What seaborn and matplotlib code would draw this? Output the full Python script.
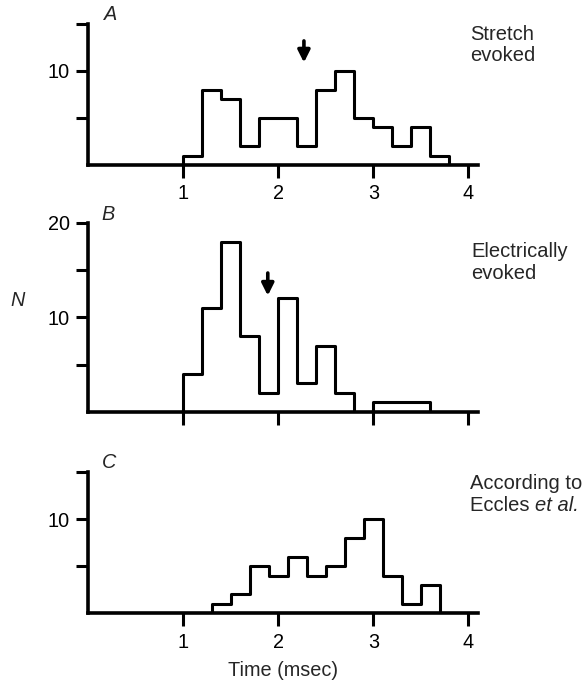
import numpy as np
import pandas as pd
import matplotlib
matplotlib.use("Agg")
import matplotlib.pyplot as plt
import seaborn as sns

sns.set_style("white")
plt.rcParams['font.family'] = ['Liberation Sans', 'DejaVu Sans']

# ---- data (bin width 0.2 msec) ----
edges_a = [1.0, 1.2, 1.4, 1.6, 1.8, 2.0, 2.2, 2.4, 2.6, 2.8, 3.0, 3.2, 3.4, 3.6, 3.8]
counts_a = [1, 8, 7, 2, 5, 5, 2, 8, 10, 5, 4, 2, 4, 1]
arrow_a = 2.27

edges_b = [1.0, 1.2, 1.4, 1.6, 1.8, 2.0, 2.2, 2.4, 2.6, 2.8, 3.0, 3.2, 3.4, 3.6]
counts_b = [4, 11, 18, 8, 2, 12, 3, 7, 2, 0, 1, 1, 1]
arrow_b = 1.89

edges_c = [1.3, 1.5, 1.7, 1.9, 2.1, 2.3, 2.5, 2.7, 2.9, 3.1, 3.3, 3.5, 3.7]
counts_c = [1, 2, 5, 4, 6, 4, 5, 8, 10, 4, 1, 3]

x_ticks = [1, 2, 3, 4]
letters = ["A", "B", "C"]
x_label = "Time (msec)"
y_label = "N"

W, H = 588, 682
fig = plt.figure(figsize=(W / 100, H / 100), dpi=100)


def add_ax(base_px, top_px):
    return fig.add_axes([88 / W, 1 - base_px / H, 390 / W, (base_px - top_px) / H])


FS = 14.3
FS_SIDE = 14.5
LW = 2.2


def style(ax, ymax, yticks, ylabels, xlabels):
    ax.set_xlim(0, 4.1)
    ax.set_ylim(0, ymax)
    for s in ["top", "right"]:
        ax.spines[s].set_visible(False)
    for s in ["left", "bottom"]:
        ax.spines[s].set_linewidth(2.6)
        ax.spines[s].set_color("black")
        ax.spines[s].set_capstyle("projecting")
    ax.set_xticks(x_ticks)
    ax.set_xticklabels([str(t) for t in x_ticks] if xlabels else [])
    ax.set_yticks(yticks)
    ax.set_yticklabels(ylabels)
    ax.tick_params(axis="x", direction="out", length=9, width=2.2, pad=5,
                   labelsize=FS, bottom=True, colors="black")
    ax.tick_params(axis="y", direction="out", length=9, width=2.2, pad=4,
                   labelsize=FS, left=True, colors="black")
    ax.set_xlabel("")
    ax.set_ylabel("")
    ax.grid(False)


def hist(ax, edges, counts):
    centers = [(edges[i] + edges[i + 1]) / 2 for i in range(len(counts))]
    df = pd.DataFrame({"t": centers, "n": counts})
    sns.histplot(data=df, x="t", weights="n", bins=edges, element="step",
                 fill=True, color="black", facecolor="none", edgecolor="black",
                 linewidth=LW, ax=ax, alpha=1)


def arrow(ax, x, y0, y1):
    ax.annotate("", xy=(x, y1), xytext=(x, y0),
                arrowprops=dict(arrowstyle="-|>", color="black", lw=2.6,
                                mutation_scale=18, shrinkA=0, shrinkB=0))


# Panel A
axA = add_ax(165, 24)
hist(axA, edges_a, counts_a)
style(axA, 15, [5, 10, 15], ["", "10", ""], True)
arrow(axA, arrow_a, 13.2, 10.9)

# Panel B
axB = add_ax(411.7, 223)
hist(axB, edges_b, counts_b)
style(axB, 20, [5, 10, 15, 20], ["", "10", "", "20"], False)
arrow(axB, arrow_b, 14.7, 12.3)

# Panel C
axC = add_ax(613.3, 472)
hist(axC, edges_c, counts_c)
style(axC, 15, [5, 10, 15], ["", "10", ""], True)
axC.set_xlabel(x_label, fontsize=FS, labelpad=7)

# Panel letters
for txt, (px, py) in zip(letters, [(111, 15), (108, 215), (109, 463)]):
    fig.text(px / W, 1 - py / H, txt, fontsize=FS, style="italic",
             ha="center", va="center")


def side(txt, px, baseline_px, **kw):
    return fig.text(px / W, 1 - baseline_px / H, txt, fontsize=FS_SIDE,
                    ha="left", va="baseline", **kw)


side("Stretch", 470, 40)
side("evoked", 470, 61)
side("Electrically", 471, 257)
side("evoked", 471, 279)
side("According to", 470, 489)
t1 = side("Eccles ", 470, 511)
fig.canvas.draw()
bb = t1.get_window_extent(renderer=fig.canvas.get_renderer())
fig.text(bb.x1 / W, 1 - 511 / H, "et al.", fontsize=FS_SIDE, ha="left",
         va="baseline", style="italic")

# y label
fig.text(18 / W, 1 - 300 / H, y_label, fontsize=FS, style="italic",
         ha="center", va="center")

fig.savefig("out.png", dpi=100, facecolor="white")
